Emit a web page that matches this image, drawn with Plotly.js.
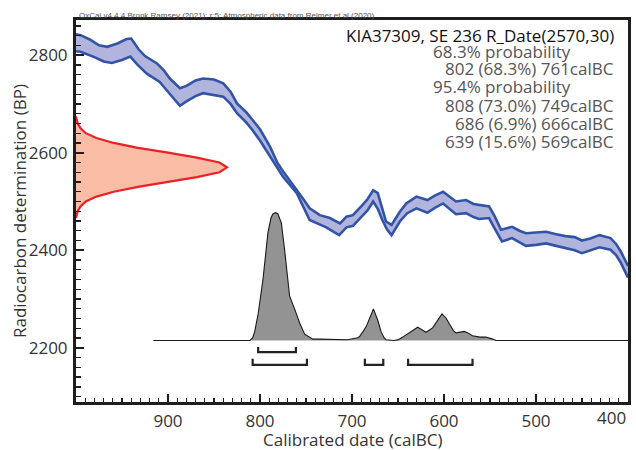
<!DOCTYPE html>
<html>
<head>
<meta charset="utf-8">
<script src="https://cdn.plot.ly/plotly-3.0.1.min.js"></script>
<style>html,body{margin:0;padding:0;background:#fff;}#chart{width:636px;height:450px;}</style>
</head>
<body>
<div id="chart"></div>
<script>
// ---- Data ----
// Calibration curve (IntCal20), upper and lower 1-sigma envelopes (calBC, BP)
const upperYear = [1000,995,985,975,966,955,945,940,932,925,912,905,898,887,880,870,862,850,840,832,825,815,808,800,789,781,775,768,760,753,746,735,724,713,706,699,690,683,677,672,667,663,657,648,641,630,618,610,601,594,587,576,568,562,551,545,538,526,518,511,500,489,478,468,458,450,441,431,419,413,408,404,400];
const upperBP   = [2843,2841,2832,2820,2817,2824,2833,2834,2812,2798,2783,2770,2752,2732,2737,2748,2752,2750,2742,2725,2701,2683,2667,2648,2612,2579,2562,2544,2525,2505,2486,2472,2466,2455,2469,2472,2490,2505,2523,2517,2485,2459,2452,2479,2496,2510,2503,2512,2520,2510,2500,2503,2495,2493,2490,2470,2442,2448,2440,2435,2436,2438,2433,2429,2427,2420,2424,2431,2425,2413,2398,2383,2368];
const lowerYear = [1000,995,980,970,961,950,941,933,923,909,900,887,880,870,862,850,840,832,825,815,808,800,789,781,775,768,760,746,737,728,714,706,699,690,683,677,672,667,662,657,648,640,630,618,610,601,594,587,576,568,562,551,545,537,526,518,511,500,489,478,468,458,450,441,431,419,413,408,404,400];
const lowerBP   = [2808,2807,2796,2787,2784,2790,2797,2780,2762,2745,2725,2696,2705,2716,2722,2718,2715,2700,2681,2662,2646,2625,2592,2568,2551,2535,2517,2462,2454,2447,2431,2447,2450,2468,2482,2500,2485,2462,2443,2431,2459,2476,2486,2477,2487,2496,2485,2474,2476,2468,2464,2466,2445,2418,2425,2417,2409,2411,2414,2409,2404,2400,2394,2399,2406,2401,2390,2375,2360,2344];

// Radiocarbon date R_Date(2570,30): relative probability vs BP
const rdBP   = [2466,2470,2480,2490,2500,2510,2520,2530,2540,2550,2560,2570,2580,2590,2600,2610,2620,2630,2640,2650,2660,2670,2674];
const rdProb = [0,0.003,0.011,0.03,0.065,0.135,0.25,0.41,0.61,0.8,0.95,1.0,0.95,0.8,0.61,0.41,0.25,0.135,0.065,0.03,0.011,0.003,0];

// Calibrated posterior: relative probability vs calBC
const postYear = [916,811,808,805.8,802,796.8,791.4,788,786,783,780.5,776.8,773.3,770,767.8,762.4,757,751.5,745,742.5,735,720,705,695,692,688,684.6,680,676.7,672,668.4,665,663,655,650,644.9,637.6,632,628.6,624,619.6,612.4,607,602.2,598,594.2,590,587,582,578,574,569,561,554.4,547,543.6,400];
const postProb = [0,0,0.02,0.07,0.21,0.48,0.85,0.97,1.0,1.01,1.0,0.93,0.72,0.5,0.35,0.25,0.14,0.05,0.02,0.011,0.011,0.006,0.006,0.02,0.03,0.07,0.11,0.19,0.25,0.16,0.07,0.02,0.006,0,0.005,0.027,0.06,0.09,0.105,0.085,0.065,0.10,0.16,0.21,0.18,0.13,0.08,0.06,0.065,0.072,0.06,0.037,0.027,0.027,0.011,0,0];

// Highest probability ranges
const range68From = [802];
const range68To   = [761];
const range68Pct  = [68.3];
const range95From = [808,686,639];
const range95To   = [749,666,569];
const range95Pct  = [73.0,6.9,15.6];

// Axis tick labels
const xTickVals = [900,800,700,600,500];
const xEndLabel = '400';

const sampleName = "KIA37309, SE 236 R_Date(2570,30)";
const caption = "OxCal v4.4.4 Bronk Ramsey (2021); r:5: Atmospheric data from Reimer et al (2020)";

// ---- Layout geometry ----
const L = 76, T = 20, W = 552, H = 382;
const px2x = px => (px - L) / W;
const px2y = py => (T + H - py) / H;
const FONT = "Open Sans";

const traces = [];
// blue band fill
traces.push({
  x: upperYear.concat(lowerYear.slice().reverse()),
  y: upperBP.concat(lowerBP.slice().reverse()),
  mode: 'lines', fill: 'toself', fillcolor: '#b1b5dd',
  line: {width: 0, color: 'rgba(0,0,0,0)'}, hoverinfo: 'skip', showlegend: false
});
traces.push({x: upperYear, y: upperBP, mode: 'lines', line: {color: '#3353a6', width: 2.6}, showlegend: false});
traces.push({x: lowerYear, y: lowerBP, mode: 'lines', line: {color: '#3353a6', width: 2.6}, showlegend: false});

// red radiocarbon distribution on y-axis
traces.push({
  x: rdProb, y: rdBP, xaxis: 'x2', yaxis: 'y', mode: 'lines',
  fill: 'tozerox', fillcolor: '#f8bda4', line: {color: '#ec2125', width: 2.2}, showlegend: false
});

// gray posterior
traces.push({
  x: postYear, y: postProb, xaxis: 'x', yaxis: 'y2', mode: 'lines',
  fill: 'tozeroy', fillcolor: '#939393', line: {color: '#1a1a1a', width: 1.1}, showlegend: false
});

// range brackets
function bracket(a, b, lvl, cap) {
  traces.push({x: [a, a, b, b], y: [cap, lvl, lvl, cap], xaxis: 'x', yaxis: 'y2', mode: 'lines',
    line: {color: '#222', width: 2.2}, showlegend: false});
}
range68From.forEach((a, i) => bracket(a, range68To[i], -0.092, -0.052));
range95From.forEach((a, i) => bracket(a, range95To[i], -0.193, -0.145));

// text annotations
const ann = [];
function txt(s, xr, yc, color, size) {
  ann.push({text: s, xref: 'paper', yref: 'paper', x: px2x(xr), y: px2y(yc), xanchor: 'right', yanchor: 'middle',
    showarrow: false, font: {family: FONT, size: size, color: color}});
}
txt(sampleName, 616, 35.7, '#111', 17);
txt(range68Pct.reduce((s, v) => s + v, 0).toFixed(1) + '% probability', 573, 51.7, '#555', 17);
let yy = 68.3;
range68From.forEach((a, i) => { txt(a + ' (' + range68Pct[i].toFixed(1) + '%) ' + range68To[i] + 'calBC', 616, yy, '#555', 17); yy += 18; });
txt('95.4% probability', 573, 86, '#555', 17);
yy = 105;
range95From.forEach((a, i) => { txt(a + ' (' + range95Pct[i].toFixed(1) + '%) ' + range95To[i] + 'calBC', 616, yy, '#555', 17); yy += 18.3; });

ann.push({text: caption, xref: 'paper', yref: 'paper', x: px2x(77), y: px2y(15), xanchor: 'left', yanchor: 'middle',
  showarrow: false, font: {family: 'Liberation Sans', size: 8, color: '#555'}});
ann.push({text: 'Calibrated date (calBC)', xref: 'paper', yref: 'paper', x: px2x(352), y: px2y(439.5), xanchor: 'center', yanchor: 'middle',
  showarrow: false, font: {family: FONT, size: 17, color: '#333'}});
ann.push({text: 'Radiocarbon determination (BP)', xref: 'paper', yref: 'paper', x: px2x(19), y: 0.5, xanchor: 'center', yanchor: 'middle',
  textangle: -90, showarrow: false, font: {family: FONT, size: 17, color: '#333'}});
// end label of x axis, right-aligned to the frame like the reference
ann.push({text: xEndLabel, xref: 'paper', yref: 'paper', x: 1, y: px2y(417.5), xanchor: 'right', yanchor: 'middle',
  showarrow: false, font: {family: FONT, size: 17, color: '#333'}});

const axCommon = {
  showline: true, linecolor: '#1e1e1e', linewidth: 3, mirror: true, showgrid: false, zeroline: false,
  ticks: 'inside', tickcolor: '#1e1e1e', tickwidth: 2, ticklen: 8,
  tickfont: {family: FONT, size: 17, color: '#333'}
};
const layout = {
  width: 636, height: 450, margin: {l: L, r: 636 - L - W, t: T, b: 450 - T - H},
  paper_bgcolor: '#fff', plot_bgcolor: '#fff', showlegend: false,
  xaxis: Object.assign({}, axCommon, {range: [1000, 400], tickmode: 'array', tickvals: xTickVals,
    ticktext: xTickVals.map(String), ticklabelstandoff: 2,
    minor: {tickmode: 'linear', tick0: 0, dtick: 10, ticks: 'inside', ticklen: 4, tickwidth: 1.3, tickcolor: '#1e1e1e', showgrid: false}}),
  yaxis: Object.assign({}, axCommon, {range: [2089, 2872], tick0: 0, dtick: 200, ticklabelstandoff: 2,
    minor: {dtick: 20, ticks: 'inside', ticklen: 5, tickwidth: 1.3, tickcolor: '#1e1e1e', showgrid: false}}),
  xaxis2: {overlaying: 'x', anchor: 'y', range: [0, 3.656], visible: false, fixedrange: true},
  yaxis2: {overlaying: 'y', anchor: 'x', range: [-0.486, 2.533], visible: false, fixedrange: true},
  annotations: ann
};
Plotly.newPlot('chart', traces, layout, {staticPlot: true});
</script>
</body>
</html>
